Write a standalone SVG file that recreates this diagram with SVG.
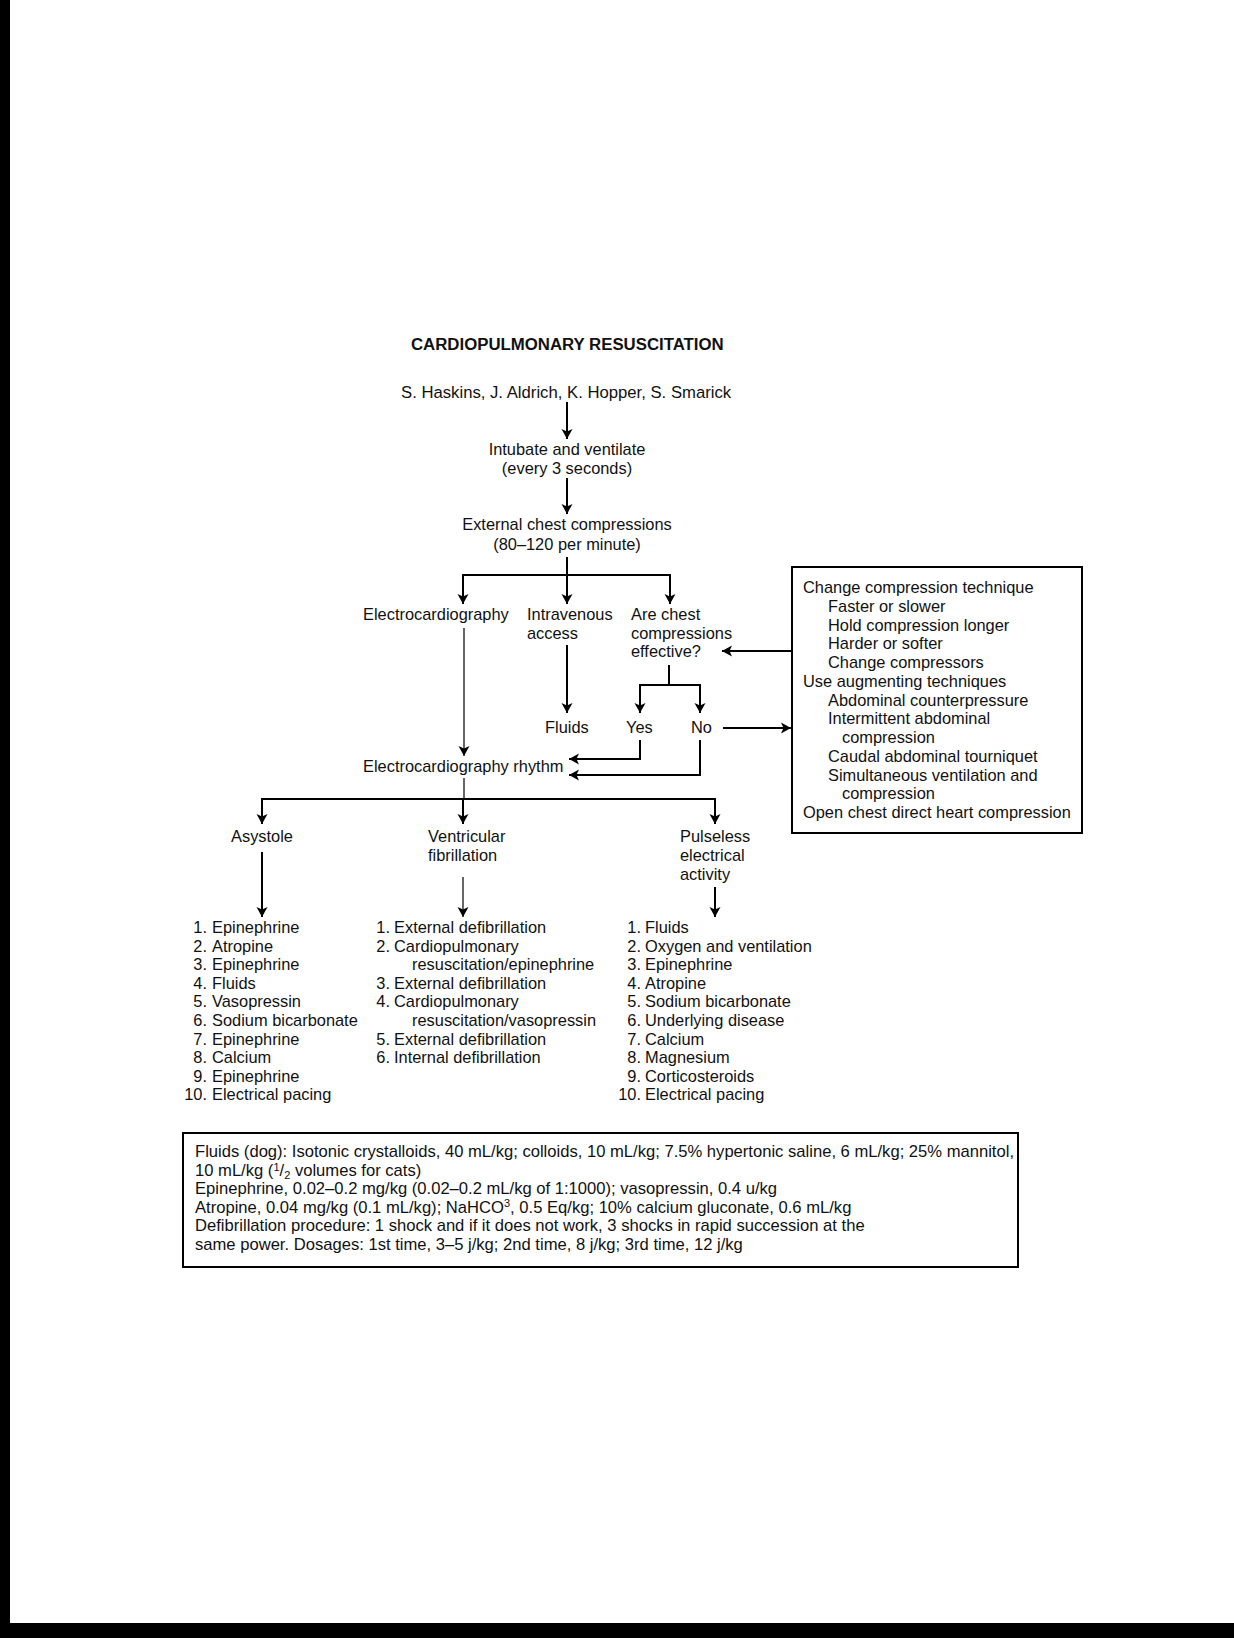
<svg xmlns="http://www.w3.org/2000/svg" width="1234" height="1638" viewBox="0 0 1234 1638">
<defs>
<marker id="ah" markerUnits="userSpaceOnUse" markerWidth="10" markerHeight="14" viewBox="0 0 10 14" refX="10" refY="7" orient="auto">
<path d="M0,1.5 L10,7 L0,12.5 L2.5,7 Z" fill="#000"/>
</marker>
<style>
text{font-family:"Liberation Sans",Arial,Helvetica,sans-serif;font-size:16.4px;fill:#111}
.t{font-weight:bold;font-size:16.8px}
.au{font-size:16.7px}
.c{text-anchor:middle}
.e{text-anchor:end}
.ln{stroke:#000;stroke-width:2;fill:none}
.th{stroke:#000;stroke-width:1.2;fill:none}
.a{marker-end:url(#ah)}
.box{fill:#fff;stroke:#000;stroke-width:2}
.bt{font-size:16.6px}
.sm{font-size:11px}
</style>
</defs>
<rect x="0" y="0" width="1234" height="1638" fill="#fff"/>
<rect x="0" y="0" width="10" height="1638" fill="#000"/>
<rect x="0" y="1623" width="1234" height="15" fill="#000"/>

<g id="title">
<text class="t" x="411" y="350">CARDIOPULMONARY RESUSCITATION</text>
</g>
<g id="authors">
<text class="au" x="401" y="398">S. Haskins, J. Aldrich, K. Hopper, S. Smarick</text>
</g>
<g id="intubate">
<text class="c" x="567" y="455">Intubate and ventilate</text>
<text class="c" x="567" y="474">(every 3 seconds)</text>
</g>
<g id="compressions">
<text class="c" x="567" y="530">External chest compressions</text>
<text class="c" x="567" y="550">(80–120 per minute)</text>
</g>
<g id="ecg">
<text x="363" y="620">Electrocardiography</text>
</g>
<g id="iv">
<text x="527" y="620">Intravenous</text>
<text x="527" y="639">access</text>
</g>
<g id="effective">
<text x="631" y="620">Are chest</text>
<text x="631" y="639">compressions</text>
<text x="631" y="657">effective?</text>
</g>
<g id="fluids"><text x="545" y="733">Fluids</text></g>
<g id="yes"><text x="626" y="733">Yes</text></g>
<g id="no"><text x="691" y="733">No</text></g>
<g id="rhythm"><text x="363" y="772">Electrocardiography rhythm</text></g>

<g id="technique-box">
<rect class="box" x="792" y="567" width="290" height="266"/>
<text x="803" y="593">Change compression technique</text>
<text x="828" y="611.75">Faster or slower</text>
<text x="828" y="630.5">Hold compression longer</text>
<text x="828" y="649.25">Harder or softer</text>
<text x="828" y="668">Change compressors</text>
<text x="803" y="686.75">Use augmenting techniques</text>
<text x="828" y="705.5">Abdominal counterpressure</text>
<text x="828" y="724.25">Intermittent abdominal</text>
<text x="842" y="743">compression</text>
<text x="828" y="761.75">Caudal abdominal tourniquet</text>
<text x="828" y="780.5">Simultaneous ventilation and</text>
<text x="842" y="799.25">compression</text>
<text x="803" y="818">Open chest direct heart compression</text>
</g>

<g id="asystole"><text class="c" x="262" y="842">Asystole</text></g>
<g id="vf">
<text x="428" y="842">Ventricular</text>
<text x="428" y="861">fibrillation</text>
</g>
<g id="pea">
<text x="680" y="842">Pulseless</text>
<text x="680" y="861">electrical</text>
<text x="680" y="880">activity</text>
</g>

<g id="asystole-list">
<text class="e" x="207" y="933">1.</text><text x="212" y="933">Epinephrine</text>
<text class="e" x="207" y="951.6">2.</text><text x="212" y="951.6">Atropine</text>
<text class="e" x="207" y="970.2">3.</text><text x="212" y="970.2">Epinephrine</text>
<text class="e" x="207" y="988.8">4.</text><text x="212" y="988.8">Fluids</text>
<text class="e" x="207" y="1007.4">5.</text><text x="212" y="1007.4">Vasopressin</text>
<text class="e" x="207" y="1026">6.</text><text x="212" y="1026">Sodium bicarbonate</text>
<text class="e" x="207" y="1044.6">7.</text><text x="212" y="1044.6">Epinephrine</text>
<text class="e" x="207" y="1063.2">8.</text><text x="212" y="1063.2">Calcium</text>
<text class="e" x="207" y="1081.8">9.</text><text x="212" y="1081.8">Epinephrine</text>
<text class="e" x="207" y="1100.4">10.</text><text x="212" y="1100.4">Electrical pacing</text>
</g>

<g id="vf-list">
<text class="e" x="390" y="933">1.</text><text x="394" y="933">External defibrillation</text>
<text class="e" x="390" y="951.6">2.</text><text x="394" y="951.6">Cardiopulmonary</text>
<text x="412" y="970.2">resuscitation/epinephrine</text>
<text class="e" x="390" y="988.8">3.</text><text x="394" y="988.8">External defibrillation</text>
<text class="e" x="390" y="1007.4">4.</text><text x="394" y="1007.4">Cardiopulmonary</text>
<text x="412" y="1026">resuscitation/vasopressin</text>
<text class="e" x="390" y="1044.6">5.</text><text x="394" y="1044.6">External defibrillation</text>
<text class="e" x="390" y="1063.2">6.</text><text x="394" y="1063.2">Internal defibrillation</text>
</g>

<g id="pea-list">
<text class="e" x="641" y="933">1.</text><text x="645" y="933">Fluids</text>
<text class="e" x="641" y="951.6">2.</text><text x="645" y="951.6">Oxygen and ventilation</text>
<text class="e" x="641" y="970.2">3.</text><text x="645" y="970.2">Epinephrine</text>
<text class="e" x="641" y="988.8">4.</text><text x="645" y="988.8">Atropine</text>
<text class="e" x="641" y="1007.4">5.</text><text x="645" y="1007.4">Sodium bicarbonate</text>
<text class="e" x="641" y="1026">6.</text><text x="645" y="1026">Underlying disease</text>
<text class="e" x="641" y="1044.6">7.</text><text x="645" y="1044.6">Calcium</text>
<text class="e" x="641" y="1063.2">8.</text><text x="645" y="1063.2">Magnesium</text>
<text class="e" x="641" y="1081.8">9.</text><text x="645" y="1081.8">Corticosteroids</text>
<text class="e" x="641" y="1100.4">10.</text><text x="645" y="1100.4">Electrical pacing</text>
</g>

<g id="dosage-box">
<rect class="box" x="183" y="1133" width="835" height="134"/>
<text class="bt" x="195" y="1157">Fluids (dog): Isotonic crystalloids, 40 mL/kg; colloids, 10 mL/kg; 7.5% hypertonic saline, 6 mL/kg; 25% mannitol,</text>
<text class="bt" x="195" y="1175.6">10 mL/kg (<tspan class="sm" dy="-5">1</tspan><tspan dy="5">/</tspan><tspan class="sm" dy="3">2</tspan><tspan dy="-3"> volumes for cats)</tspan></text>
<text class="bt" x="195" y="1194.2">Epinephrine, 0.02–0.2 mg/kg (0.02–0.2 mL/kg of 1:1000); vasopressin, 0.4 u/kg</text>
<text class="bt" x="195" y="1212.8">Atropine, 0.04 mg/kg (0.1 mL/kg); NaHCO<tspan class="sm" dy="-6">3</tspan><tspan dy="6">, 0.5 Eq/kg; 10% calcium gluconate, 0.6 mL/kg</tspan></text>
<text class="bt" x="195" y="1231.4">Defibrillation procedure: 1 shock and if it does not work, 3 shocks in rapid succession at the</text>
<text class="bt" x="195" y="1250">same power. Dosages: 1st time, 3–5 j/kg; 2nd time, 8 j/kg; 3rd time, 12 j/kg</text>
</g>

<g id="connectors">
<line class="ln a" x1="567" y1="402" x2="567" y2="439"/>
<line class="ln a" x1="567" y1="478" x2="567" y2="514"/>
<path class="ln" d="M567,557 V575 M463,575 H670"/>
<line class="ln a" x1="463" y1="574" x2="463" y2="604"/>
<line class="ln a" x1="567" y1="574" x2="567" y2="604"/>
<line class="ln a" x1="670" y1="574" x2="670" y2="604"/>
<line class="ln a" x1="567" y1="645" x2="567" y2="713"/>
<path class="ln" d="M669,665 V685 M640,685 H700"/>
<line class="ln a" x1="640" y1="684" x2="640" y2="713"/>
<line class="ln a" x1="700" y1="684" x2="700" y2="713"/>
<line class="ln a" x1="792" y1="651" x2="722" y2="651"/>
<line class="ln a" x1="723" y1="728" x2="791" y2="728"/>
<path class="ln a" d="M640,740 V759 H569"/>
<path class="ln a" d="M700,740 V775 H569"/>
<line class="th a" x1="464" y1="628" x2="464" y2="756"/>
<path class="th" d="M464,778 V799"/>
<path class="ln" d="M262,799 H715"/>
<line class="ln a" x1="262" y1="798" x2="262" y2="824"/>
<line class="ln a" x1="463" y1="798" x2="463" y2="824"/>
<line class="ln a" x1="715" y1="798" x2="715" y2="824"/>
<line class="ln a" x1="262" y1="852" x2="262" y2="917"/>
<line class="th a" x1="463" y1="877" x2="463" y2="917"/>
<line class="ln a" x1="715" y1="887" x2="715" y2="917"/>
</g>
</svg>
